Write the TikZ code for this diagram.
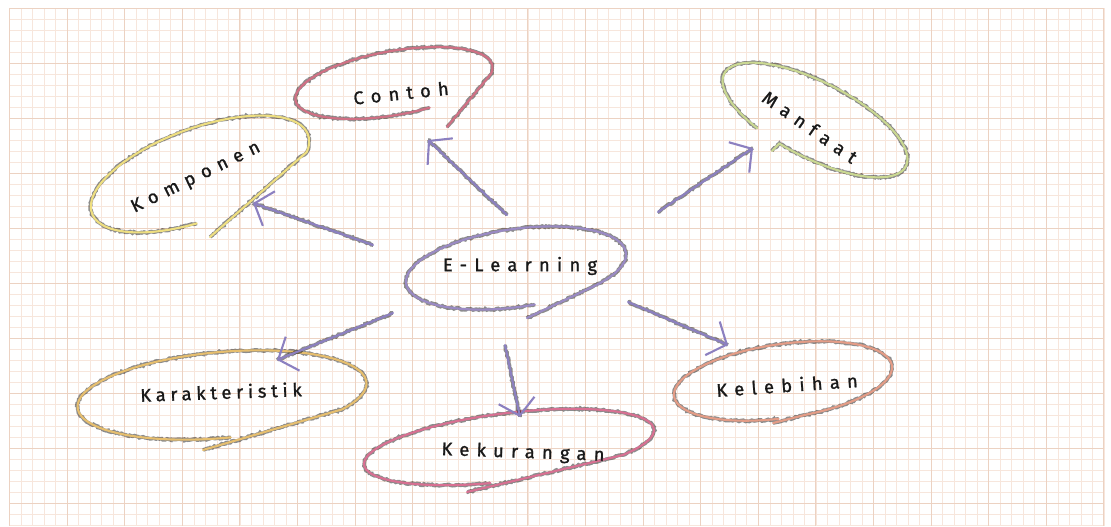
\documentclass[tikz,border=0pt]{standalone}
\usepackage{fontspec}
\setmainfont{Fira Sans}
\usetikzlibrary{arrows.meta,decorations.pathmorphing,calc}

% paper and ink colours
\definecolor{gridmajor}{RGB}{236,210,194}
\definecolor{gridminor}{RGB}{247,230,220}
\definecolor{inkContoh}{RGB}{208,112,132}
\definecolor{inkKomponen}{RGB}{238,222,128}
\definecolor{inkManfaat}{RGB}{202,216,146}
\definecolor{inkLearning}{RGB}{154,138,196}
\definecolor{inkKarakter}{RGB}{230,190,110}
\definecolor{inkKurang}{RGB}{216,112,146}
\definecolor{inkLebih}{RGB}{228,156,134}
\definecolor{inkArrow}{RGB}{140,128,192}

\tikzset{
  crayon/.style={line width=1.5pt, line cap=round, line join=round,
    preaction={draw, -, opacity=0.45, line width=2.6pt, decorate,
      decoration={random steps, segment length=1.3pt, amplitude=0.6pt}}},
  word/.style={font=\fontsize{13}{15}\selectfont\addfontfeature{LetterSpace=40,FakeBold=1.2},
    text=black!90, inner sep=0pt},
  tight/.style={font=\fontsize{13}{15}\selectfont\addfontfeature{LetterSpace=26,FakeBold=1.2}},
  link/.style={crayon, draw=inkArrow, -{Straight Barb[length=11pt,width=26pt]}},
}

\begin{document}
\pgfmathsetseed{11}
\begin{tikzpicture}[x=0.025cm, y=-0.025cm]
  \useasboundingbox (0,0) rectangle (1111,526);
  \fill[white] (0,0) rectangle (1111,526);

  % graph paper
  \foreach \i in {0,...,95}
    \draw[gridminor, line width=0.3pt] ({9.4+\i*11.52},8) -- ({9.4+\i*11.52},526);
  \foreach \j in {0,...,47}
    \draw[gridminor, line width=0.3pt] (9.4,{8+\j*11}) -- (1103.8,{8+\j*11});
  \foreach \i in {0,...,19}
    \draw[gridmajor, line width=0.6pt] ({9.4+\i*57.6},8) -- ({9.4+\i*57.6},526);
  \foreach \j in {0,...,9}
    \draw[gridmajor, line width=0.6pt] (9.4,{8+\j*55}) -- (1103.8,{8+\j*55});

  % bubble centres and the loose ends of their strokes
  \coordinate (cContoh) at (394,83);
  \coordinate (tContoh) at (447,127);
  \coordinate (cKomponen) at (200,174);
  \coordinate (tKomponen) at (210,237);
  \coordinate (cManfaat) at (815,120);
  \coordinate (tManfaat) at (772,151);
  \coordinate (cLearning) at (516,268);
  \coordinate (tLearning) at (527,318);
  \coordinate (cKarakter) at (222,395);
  \coordinate (tKarakter) at (203,450);
  \coordinate (cKurang) at (509,447);
  \coordinate (tKurang) at (467,492);
  \coordinate (cLebih) at (783,381);
  \coordinate (tLebih) at (773,423);

  % hand-drawn bubbles
  \draw[crayon, draw=inkContoh, shift={(cContoh)}, rotate=10]
    (72:100 and 32) arc[start angle=72, end angle=375, x radius=100, y radius=32] -- (tContoh);
  \draw[crayon, draw=inkKomponen, shift={(cKomponen)}, rotate=20]
    (100:115 and 46) arc[start angle=100, end angle=380, x radius=115, y radius=46] -- (tKomponen);
  \draw[crayon, draw=inkManfaat, shift={(cManfaat)}, rotate=-27]
    (118:102 and 38) arc[start angle=118, end angle=462, x radius=102, y radius=38] -- (tManfaat);
  \draw[crayon, draw=inkLearning, shift={(cLearning)}, rotate=8]
    (83:111 and 39) arc[start angle=83, end angle=410, x radius=111, y radius=39] -- (tLearning);
  \draw[crayon, draw=inkKarakter, shift={(cKarakter)}, rotate=5]
    (88:145 and 43) arc[start angle=88, end angle=395, x radius=145, y radius=43] -- (tKarakter);
  \draw[crayon, draw=inkKurang, shift={(cKurang)}, rotate=7]
    (99:146 and 34) arc[start angle=99, end angle=400, x radius=146, y radius=34] -- (tKurang);
  \draw[crayon, draw=inkLebih, shift={(cLebih)}, rotate=8]
    (95:110 and 37) arc[start angle=95, end angle=440, x radius=110, y radius=37] -- (tLebih);

  % labels
  \node[word, rotate=6] (contoh) at (401,93) {Contoh};
  \node[word, rotate=26] (komponen) at (196,178) {Komponen};
  \node[word, rotate=-35] (manfaat) at (810,127) {Manfaat};
  \node[word] (elearning) at (520,266) {E-Learning};
  \node[word, tight, rotate=2] (karakteristik) at (221,392) {Karakteristik};
  \node[word, rotate=-2] (kekurangan) at (523,453) {Kekurangan};
  \node[word, rotate=4] (kelebihan) at (787,385) {Kelebihan};

  % arrow ends
  \coordinate (fromContoh) at (507,215);   \coordinate (toContoh) at (428,140);
  \coordinate (fromKomponen) at (373,245); \coordinate (toKomponen) at (253,203);
  \coordinate (fromManfaat) at (658,212);  \coordinate (toManfaat) at (753,148);
  \coordinate (fromKarakter) at (393,313); \coordinate (toKarakter) at (277,360);
  \coordinate (fromKurang) at (505,345);   \coordinate (toKurang) at (520,417);
  \coordinate (fromLebih) at (628,302);    \coordinate (toLebih) at (728,345);

  % arrows out of the centre bubble
  \draw[link] (fromContoh) -- (toContoh);
  \draw[link] (fromKomponen) -- (toKomponen);
  \draw[link] (fromManfaat) -- (toManfaat);
  \draw[link] (fromKarakter) -- (toKarakter);
  \draw[link] (fromKurang) -- (toKurang);
  \draw[link] (fromLebih) -- (toLebih);
\end{tikzpicture}
\end{document}
